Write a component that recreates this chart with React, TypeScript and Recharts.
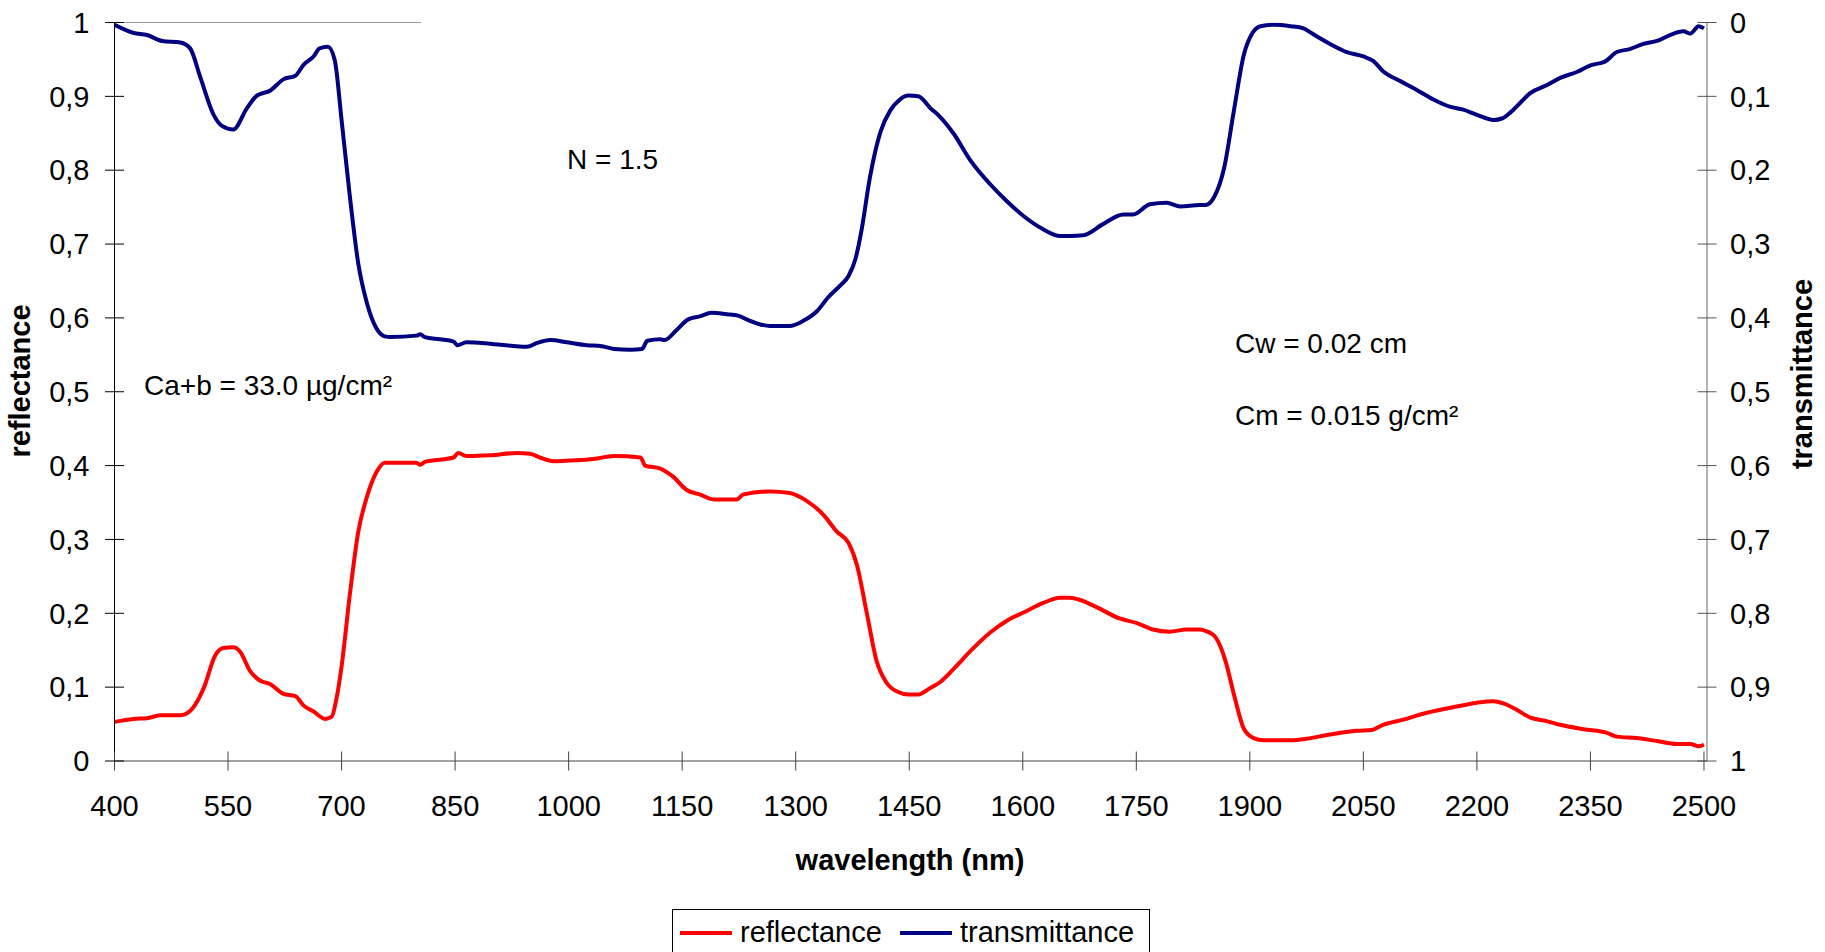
import React from 'react';
import { LineChart, Line, XAxis, YAxis, Legend, ReferenceLine } from 'recharts';

// ---------- data ----------
const reflWavelengths = [
  400, 425, 443, 461, 487, 502, 518, 533, 544, 557, 566, 579, 592, 606, 623, 639, 650, 663, 678, 687,
  693, 700, 711, 722, 733, 746, 757, 764, 799, 804, 810, 830, 848, 854, 865, 896, 932, 949, 962, 980,
  1002, 1033, 1060, 1095, 1101, 1121, 1138, 1156, 1173, 1193, 1222, 1231, 1266, 1292, 1315, 1337, 1354, 1370, 1381, 1394,
  1407, 1420, 1434, 1449, 1462, 1478, 1491, 1509, 1531, 1557, 1579, 1601, 1627, 1649, 1662, 1676, 1698, 1728, 1750, 1772,
  1794, 1816, 1834, 1842, 1855, 1868, 1879, 1892, 1905, 1918, 1954, 1975, 2006, 2041, 2061, 2076, 2103, 2129, 2155, 2165,
  2200, 2222, 2235, 2253, 2270, 2292, 2310, 2341, 2372, 2385, 2411, 2438, 2464, 2482, 2493, 2500,
];
const reflValues = [
  0.053, 0.057, 0.058, 0.062, 0.062, 0.070, 0.099, 0.143, 0.153, 0.154, 0.148, 0.122, 0.109, 0.104, 0.091, 0.088, 0.075, 0.067, 0.057, 0.060,
  0.083, 0.128, 0.226, 0.310, 0.356, 0.391, 0.404, 0.404, 0.404, 0.401, 0.405, 0.408, 0.411, 0.417, 0.413, 0.414, 0.417, 0.416, 0.411, 0.406,
  0.407, 0.409, 0.413, 0.411, 0.400, 0.396, 0.385, 0.367, 0.361, 0.354, 0.354, 0.361, 0.365, 0.363, 0.352, 0.333, 0.311, 0.295, 0.265, 0.200,
  0.135, 0.106, 0.094, 0.090, 0.090, 0.099, 0.107, 0.125, 0.149, 0.174, 0.190, 0.201, 0.214, 0.221, 0.221, 0.218, 0.208, 0.193, 0.187, 0.178,
  0.175, 0.178, 0.178, 0.176, 0.167, 0.135, 0.090, 0.044, 0.031, 0.028, 0.028, 0.030, 0.036, 0.041, 0.042, 0.049, 0.056, 0.064, 0.070, 0.072,
  0.079, 0.081, 0.078, 0.069, 0.059, 0.054, 0.049, 0.043, 0.038, 0.033, 0.031, 0.027, 0.023, 0.023, 0.020, 0.022,
];

const transWavelengths = [
  400, 425, 443, 463, 487, 500, 513, 531, 542, 557, 575, 588, 606, 623, 639, 650, 663, 671, 682, 691,
  700, 711, 722, 733, 746, 757, 764, 799, 804, 810, 830, 848, 853, 865, 896, 927, 945, 958, 976, 998,
  1024, 1042, 1060, 1082, 1097, 1104, 1121, 1127, 1142, 1158, 1173, 1189, 1209, 1224, 1235, 1266, 1292, 1310, 1328, 1343,
  1359, 1370, 1379, 1387, 1398, 1412, 1425, 1438, 1449, 1462, 1478, 1491, 1509, 1531, 1557, 1579, 1601, 1627, 1649, 1662,
  1680, 1706, 1733, 1746, 1768, 1790, 1808, 1834, 1842, 1853, 1866, 1879, 1892, 1903, 1914, 1932, 1954, 1971, 1984, 2006,
  2028, 2050, 2063, 2076, 2098, 2120, 2142, 2164, 2182, 2200, 2222, 2233, 2244, 2257, 2270, 2292, 2310, 2332, 2350, 2369,
  2385, 2402, 2420, 2438, 2455, 2473, 2482, 2493, 2500,
];
const transValues = [
  0.003, 0.014, 0.017, 0.025, 0.027, 0.035, 0.073, 0.125, 0.140, 0.145, 0.116, 0.099, 0.092, 0.077, 0.072, 0.057, 0.046, 0.035, 0.033, 0.051,
  0.132, 0.236, 0.326, 0.378, 0.414, 0.425, 0.426, 0.424, 0.422, 0.426, 0.429, 0.432, 0.437, 0.433, 0.435, 0.438, 0.439, 0.434, 0.430, 0.433,
  0.437, 0.438, 0.442, 0.443, 0.442, 0.431, 0.429, 0.430, 0.417, 0.402, 0.398, 0.393, 0.395, 0.397, 0.402, 0.411, 0.411, 0.404, 0.391, 0.372,
  0.356, 0.343, 0.320, 0.281, 0.210, 0.148, 0.119, 0.104, 0.099, 0.100, 0.116, 0.128, 0.151, 0.187, 0.219, 0.242, 0.262, 0.280, 0.289, 0.289,
  0.288, 0.273, 0.260, 0.260, 0.246, 0.244, 0.249, 0.247, 0.247, 0.236, 0.197, 0.119, 0.044, 0.015, 0.005, 0.003, 0.005, 0.008, 0.016, 0.029,
  0.040, 0.046, 0.052, 0.066, 0.079, 0.091, 0.104, 0.114, 0.118, 0.125, 0.132, 0.130, 0.122, 0.109, 0.096, 0.085, 0.075, 0.067, 0.058, 0.053,
  0.040, 0.036, 0.029, 0.025, 0.017, 0.012, 0.015, 0.005, 0.008,
];

const xTicks = [400, 550, 700, 850, 1000, 1150, 1300, 1450, 1600, 1750, 1900, 2050, 2200, 2350, 2500];
const yTicks = [0, 0.1, 0.2, 0.3, 0.4, 0.5, 0.6, 0.7, 0.8, 0.9, 1];

const annotations = [
  { text: 'N = 1.5', x: 567, y: 169 },
  { text: 'Ca+b = 33.0 µg/cm²', x: 144, y: 395 },
  { text: 'Cw = 0.02 cm', x: 1235, y: 353 },
  { text: 'Cm = 0.015 g/cm²', x: 1235, y: 425 },
];

// ---------- layout / style ----------
const W = 1825;
const H = 952;
const FONT = '"Liberation Sans", Arial, Helvetica, sans-serif';
const FS = 29;
const PLOT_L = 114.5;
const PLOT_R = 1707;
const PLOT_T = 22.5;
const PLOT_B = 761;
const Y_AXIS_W = 80;
const X_AXIS_H = 60;
const X_TICK_MARGIN = 34;
const YL_TICK_MARGIN = 25;
const YR_TICK_MARGIN = 23;

const reflData = reflWavelengths.map((wl, i) => ({ wl, v: reflValues[i] }));
const transData = transWavelengths.map((wl, i) => ({ wl, v: transValues[i] }));

const fmt = (v: number) => (v === 0 ? '0' : v === 1 ? '1' : v.toFixed(1).replace('.', ','));

const XTick = (props: any) => {
  const { x, y, payload } = props;
  const axisY = y - X_TICK_MARGIN;
  return (
    <g>
      <line x1={x} x2={x} y1={axisY - 9.5} y2={axisY + 9.5} stroke="#444" strokeWidth={1} />
      <text x={x} y={y} dy="0.71em" textAnchor="middle" fontSize={FS} fontFamily={FONT} fill="#000">
        {payload.value}
      </text>
    </g>
  );
};

const YLeftTick = (props: any) => {
  const { x, y, payload } = props;
  const axisX = x + YL_TICK_MARGIN;
  return (
    <g>
      <line x1={axisX - 9.5} x2={axisX + 9.5} y1={y} y2={y} stroke="#000" strokeWidth={1} />
      <text x={x} y={y} dy="0.355em" textAnchor="end" fontSize={FS} fontFamily={FONT} fill="#000">
        {fmt(payload.value)}
      </text>
    </g>
  );
};

const YRightTick = (props: any) => {
  const { x, y, payload } = props;
  const axisX = x - YR_TICK_MARGIN;
  return (
    <g>
      <line x1={axisX - 9.5} x2={axisX + 9.5} y1={y} y2={y} stroke="#555" strokeWidth={1} />
      <text x={x} y={y} dy="0.355em" textAnchor="start" fontSize={FS} fontFamily={FONT} fill="#000">
        {fmt(payload.value)}
      </text>
    </g>
  );
};

const renderLegend = (props: any) => {
  const items = props.payload || [];
  const pos = [
    { line: 7, text: 67 },
    { line: 227, text: 287 },
  ];
  return (
    <div
      style={{
        position: 'relative',
        width: 478,
        height: 60,
        border: '1px solid #000',
        boxSizing: 'border-box',
        background: '#fff',
        fontFamily: FONT,
        fontSize: FS,
      }}
    >
      {items.map((it: any, i: number) => (
        <React.Fragment key={it.value}>
          <div
            style={{
              position: 'absolute',
              left: pos[i].line,
              top: 21,
              width: 52,
              height: 4,
              background: it.color,
            }}
          />
          <div
            style={{
              position: 'absolute',
              left: pos[i].text,
              top: 5,
              lineHeight: '34px',
              color: '#000',
              whiteSpace: 'nowrap',
            }}
          >
            {it.value}
          </div>
        </React.Fragment>
      ))}
    </div>
  );
};

export default function App() {
  return (
    <div
      style={{
        position: 'absolute',
        left: 0,
        top: 0,
        width: W,
        height: H,
        background: '#fff',
        overflow: 'hidden',
      }}
    >
      <LineChart
        width={W}
        height={H}
        margin={{
          top: PLOT_T,
          left: PLOT_L - Y_AXIS_W,
          right: W - PLOT_R - Y_AXIS_W,
          bottom: H - PLOT_B - X_AXIS_H,
        }}
      >
        <XAxis
          type="number"
          dataKey="wl"
          domain={[400, 2504]}
          ticks={xTicks}
          allowDataOverflow
          height={X_AXIS_H}
          tickSize={0}
          tickMargin={X_TICK_MARGIN}
          tickLine={false}
          axisLine={{ stroke: '#444', strokeWidth: 1 }}
          tick={<XTick />}
          interval={0}
        />
        <YAxis
          yAxisId="left"
          domain={[0, 1]}
          ticks={yTicks}
          width={Y_AXIS_W}
          tickSize={0}
          tickMargin={YL_TICK_MARGIN}
          tickLine={false}
          axisLine={{ stroke: '#000', strokeWidth: 1 }}
          tick={<YLeftTick />}
          interval={0}
          allowDataOverflow
        />
        <YAxis
          yAxisId="right"
          orientation="right"
          reversed
          domain={[0, 1]}
          ticks={yTicks}
          width={Y_AXIS_W}
          tickSize={0}
          tickMargin={YR_TICK_MARGIN}
          tickLine={false}
          axisLine={{ stroke: '#666', strokeWidth: 1 }}
          tick={<YRightTick />}
          interval={0}
          allowDataOverflow
        />
        <ReferenceLine
          yAxisId="left"
          segment={[
            { x: 400, y: 1 },
            { x: 805, y: 1 },
          ]}
          stroke="#999"
          strokeWidth={1}
        />
        <Line
          yAxisId="left"
          data={reflData}
          dataKey="v"
          name="reflectance"
          stroke="#ff0000"
          strokeWidth={4}
          strokeLinejoin="round"
          dot={false}
          activeDot={false}
          type="monotoneX"
          isAnimationActive={false}
        />
        <Line
          yAxisId="right"
          data={transData}
          dataKey="v"
          name="transmittance"
          stroke="#000080"
          strokeWidth={4}
          strokeLinejoin="round"
          dot={false}
          activeDot={false}
          type="monotoneX"
          isAnimationActive={false}
        />
        <Legend
          layout="horizontal"
          verticalAlign="middle"
          align="center"
          wrapperStyle={{ position: 'absolute', left: 672, top: 909, width: 478, height: 60, margin: 0 }}
          content={renderLegend}
        />
      </LineChart>
      <svg
        width={W}
        height={H}
        style={{ position: 'absolute', left: 0, top: 0, pointerEvents: 'none' }}
      >
        {annotations.map((a) => (
          <text key={a.text} x={a.x} y={a.y} fontSize={28} fontFamily={FONT} fill="#000">
            {a.text}
          </text>
        ))}
        <text
          transform="translate(20,381) rotate(-90)"
          textAnchor="middle"
          dy="0.35em"
          fontSize={FS}
          fontWeight="bold"
          fontFamily={FONT}
          fill="#000"
        >
          reflectance
        </text>
        <text
          transform="translate(1802,374) rotate(-90)"
          textAnchor="middle"
          dy="0.35em"
          fontSize={FS}
          fontWeight="bold"
          fontFamily={FONT}
          fill="#000"
        >
          transmittance
        </text>
        <text
          x={910}
          y={870}
          textAnchor="middle"
          fontSize={FS}
          fontWeight="bold"
          fontFamily={FONT}
          fill="#000"
        >
          wavelength (nm)
        </text>
      </svg>
    </div>
  );
}
